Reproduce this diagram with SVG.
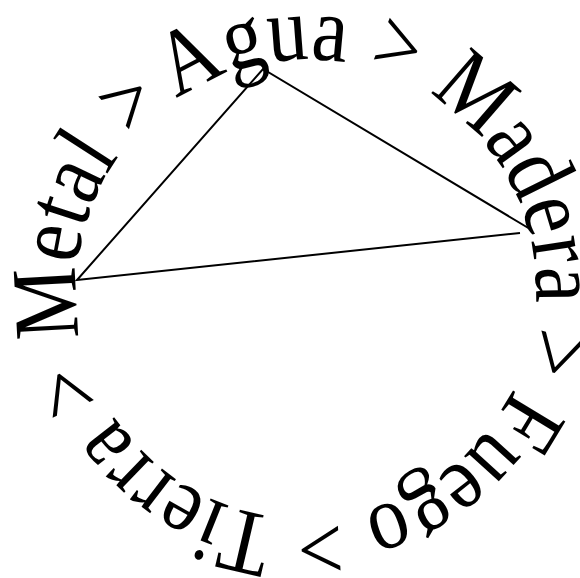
<svg xmlns="http://www.w3.org/2000/svg" width="580" height="578" viewBox="0 0 580 578">
  <style>
    .edge { fill: none; stroke: #000; stroke-width: 2; stroke-linejoin: miter; }
    .ring { font-family: "Liberation Serif", "Times New Roman", serif; font-size: 9.3px; fill: #000; }
  </style>
  <defs>
    <path id="ringPath" d="M17.795,9.915 A22.9,22.9 0 1,1 43.405,47.885 A22.9,22.9 0 1,1 17.795,9.915" fill="none"/>
  </defs>
  <rect width="580" height="578" fill="#fff"/>
  <g id="connectors">
    <path class="edge" d="M520,233 L77,280 L263,69 L530,229"/>
  </g>
  <g id="ring-text" transform="scale(10)">
    <text class="ring" text-rendering="geometricPrecision"><textPath href="#ringPath" textLength="143.8" lengthAdjust="spacingAndGlyphs">Agua &gt; Madera &gt; Fuego &gt; Tierra &gt; Metal &gt;&#160;</textPath></text>
  </g>
</svg>
